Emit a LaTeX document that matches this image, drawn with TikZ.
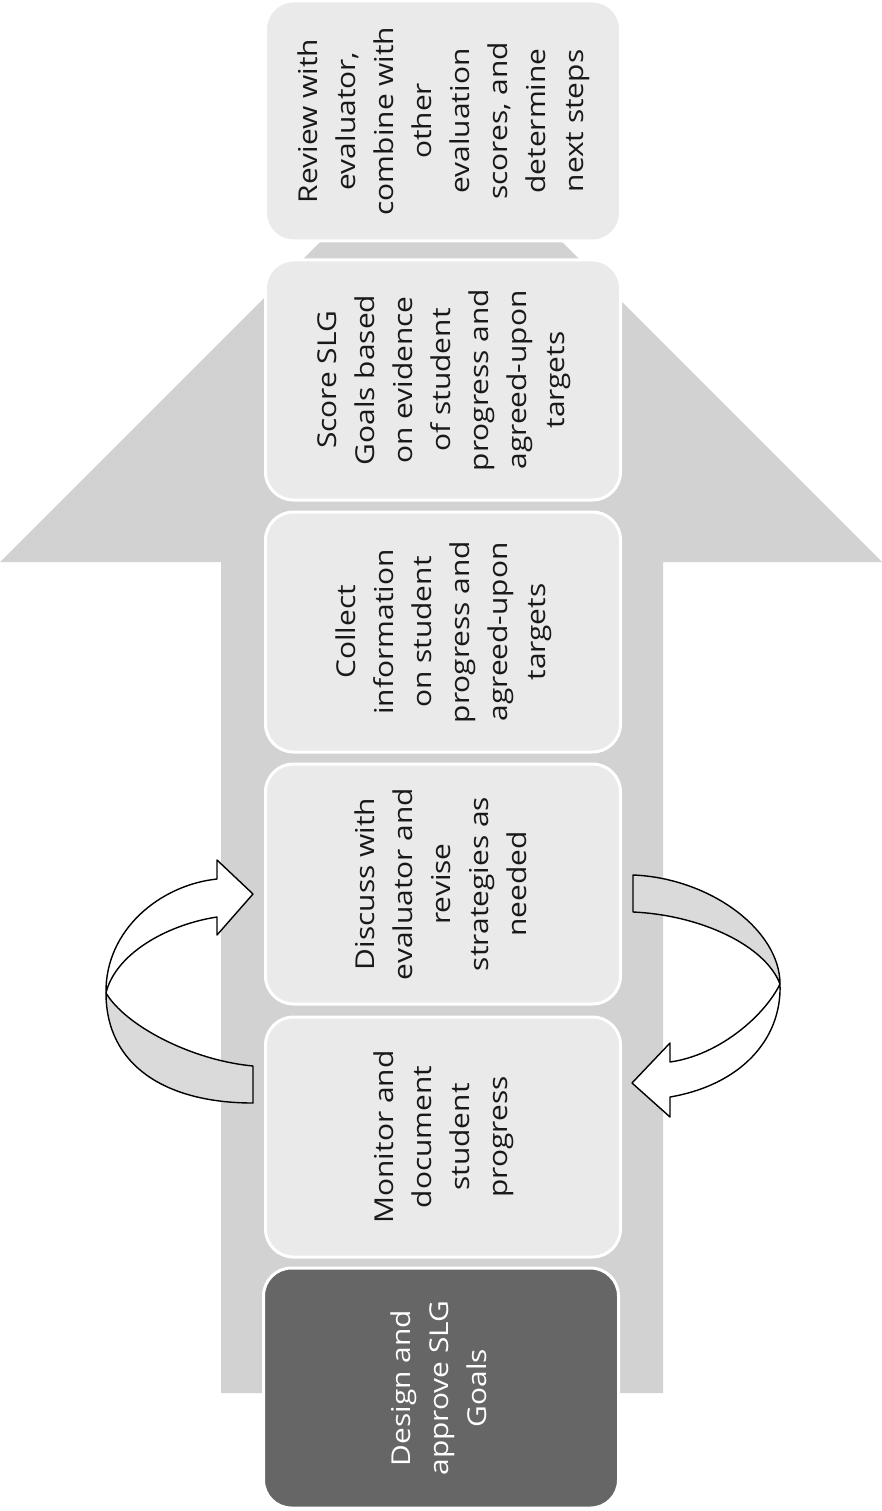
\documentclass[tikz,border=0pt]{standalone}
\usepackage{fontspec}
\setmainfont{Open Sans}
\definecolor{arrowgray}{HTML}{D2D2D2}
\definecolor{boxgray}{HTML}{EAEAEA}
\definecolor{darkbox}{HTML}{666666}
\definecolor{bandgray}{HTML}{DADADA}
\newcommand{\steptext}[1]{\scalebox{1.15}[1]{\begin{tabular}{@{}c@{}}#1\end{tabular}}}
\begin{document}
\begin{tikzpicture}[x=1pt,y=-1pt,
  stepbox/.style={draw=white, line width=3pt, fill=boxgray, rounded corners=28pt,
    rotate=90, minimum width=240pt, minimum height=355pt, inner sep=0pt,
    align=center, font=\fontsize{26}{38}\selectfont, text=black!90},
  firstbox/.style={stepbox, fill=darkbox, text=white},
  loopline/.style={draw=black, line width=1.4pt, line join=round}]
\useasboundingbox (0,0) rectangle (882,1511);
% big up arrow
\fill[arrowgray] (221,1393) -- (221,562) -- (0,562) -- (441,121) -- (882,562)
  -- (663,562) -- (663,1393) -- cycle;
% steps
\node[stepbox] (review) at (443,121) {\steptext{Review with\\evaluator,\\combine with\\other\\evaluation\\scores, and\\determine\\next steps}};
\node[stepbox] (score) at (443,380) {\steptext{Score SLG\\Goals based\\on evidence\\of student\\progress and\\agreed-upon\\targets}};
\node[stepbox] (collect) at (443,632) {\steptext{Collect\\information\\on student\\progress and\\agreed-upon\\targets}};
\node[stepbox] (discuss) at (443,884) {\steptext{Discuss with\\evaluator and\\revise\\strategies as\\needed}};
\node[stepbox] (monitor) at (443,1137) {\steptext{Monitor and\\document\\student\\progress}};
\node[firstbox] (design) at (441,1388) {\steptext{Design and\\approve SLG\\Goals}};
% left loop arrow (monitor -> discuss)
\coordinate (lp) at (106,993);
\filldraw[loopline, fill=bandgray] (lp) .. controls (106,1065) and (165,1103) .. (253,1103)
  -- (253,1066) .. controls (190,1060) and (125,1025) .. (lp) -- cycle;
\filldraw[loopline, fill=white] (lp) .. controls (105,930) and (160,885) .. (217,879)
  -- (217,860) -- (253,894) -- (217,935) -- (217,917)
  .. controls (165,925) and (115,955) .. (lp) -- cycle;
% right loop arrow (discuss -> monitor)
\coordinate (rp) at (780,984);
\filldraw[loopline, fill=bandgray] (633,875) .. controls (710,878) and (780,930) .. (rp)
  .. controls (765,945) and (700,915) .. (633,912) -- cycle;
\filldraw[loopline, fill=white] (rp) .. controls (782,1040) and (740,1085) .. (670,1097)
  -- (670,1117) -- (632,1083) -- (670,1043) -- (670,1062)
  .. controls (720,1055) and (765,1015) .. (rp) -- cycle;
\end{tikzpicture}
\end{document}
